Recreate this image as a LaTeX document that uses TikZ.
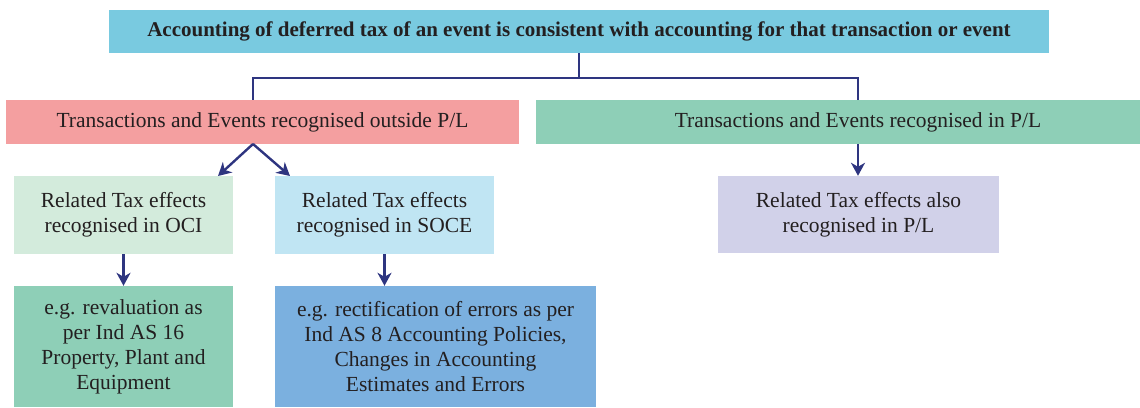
\documentclass[tikz,border=0pt]{standalone}
\usepackage{fontspec}
\setmainfont{Liberation Serif}
\usetikzlibrary{arrows.meta}
\definecolor{topc}{HTML}{79CAE0}
\definecolor{pinkc}{HTML}{F49FA0}
\definecolor{greenc}{HTML}{8ECFB7}
\definecolor{ocic}{HTML}{D3EBDC}
\definecolor{socec}{HTML}{C0E5F3}
\definecolor{plc}{HTML}{D1D1E9}
\definecolor{bluec}{HTML}{7BB0DF}
\definecolor{navy}{HTML}{2E3580}
\definecolor{txt}{HTML}{231F20}
\tikzset{
  box/.style={rectangle, inner sep=0pt, align=center, text=txt,
    font=\fontsize{21.5}{25}\selectfont},
  conn/.style={draw=navy, line width=2.4pt},
  arr/.style={conn, -{Stealth[length=13pt,width=14pt,inset=4pt]}}
}
\begin{document}
\begin{tikzpicture}[x=1pt,y=-1pt]
\useasboundingbox (0,0) rectangle (1140,407);
\node[box, fill=topc, minimum width=940pt, minimum height=43pt, font=\bfseries\fontsize{21}{25}\selectfont] (top) at (579,31.5)
  {Accounting of deferred tax of an event is consistent with accounting for that transaction or event};
\node[box, fill=pinkc, minimum width=513pt, minimum height=44pt] (pink) at (262.5,122)
  {Transactions and Events recognised outside P/L};
\node[box, fill=greenc, minimum width=644pt, minimum height=44pt] (green) at (858,122)
  {Transactions and Events recognised in P/L};
\node[box, fill=ocic, minimum width=219pt, minimum height=78pt] (oci) at (123.5,215)
  {Related Tax effects\\recognised in OCI};
\node[box, fill=socec, minimum width=219pt, minimum height=78pt] (soce) at (384.5,215)
  {Related Tax effects\\recognised in SOCE};
\node[box, fill=plc, minimum width=281pt, minimum height=77pt] (pl) at (858.5,214.5)
  {Related Tax effects also\\recognised in P/L};
\node[box, fill=greenc, minimum width=219pt, minimum height=121pt] (ex1) at (123.5,346.5)
  {e.g. revaluation as\\per Ind AS 16\\Property, Plant and\\Equipment};
\node[box, fill=bluec, minimum width=321pt, minimum height=121pt] (ex2) at (435.5,346.5)
  {e.g. rectification of errors as per\\Ind AS 8 Accounting Policies,\\Changes in Accounting\\Estimates and Errors};
\coordinate (j) at (579,78);
\coordinate (jl) at (253,78);
\coordinate (jr) at (858,78);
\coordinate (ps) at (253,144);
\coordinate (t1) at (218,176);
\coordinate (t2) at (290,176);
\draw[conn] (top.south -| j) -- (j);
\draw[conn] (jl |- pink.north) -- (jl) -- (jr) -- (jr |- green.north);
\draw[arr] (ps) -- (t1);
\draw[arr] (ps) -- (t2);
\draw[arr] (green.south -| jr) -- (pl.north -| jr);
\draw[arr] (oci.south) -- (ex1.north);
\draw[arr] (soce.south) -- (soce.south |- ex2.north);
\end{tikzpicture}
\end{document}
